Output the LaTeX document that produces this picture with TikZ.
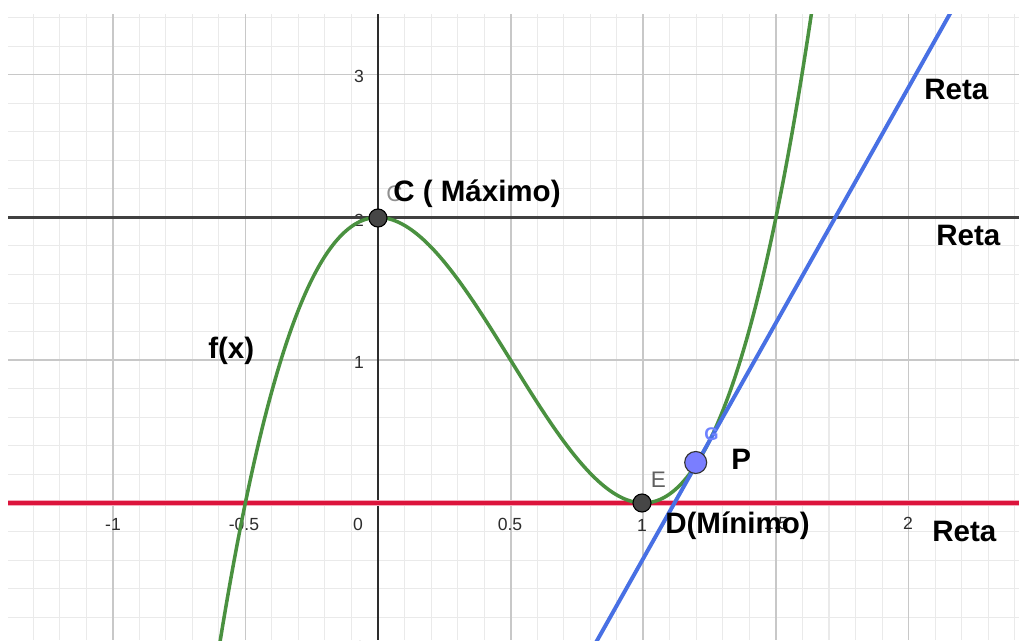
\documentclass[tikz,border=0pt]{standalone}
\usepackage{fontspec}
\setmainfont{Liberation Sans}
\definecolor{minorgrid}{RGB}{234,234,234}
\definecolor{majorgrid}{RGB}{200,200,200}
\definecolor{axisgray}{RGB}{45,45,45}
\definecolor{retagray}{RGB}{64,64,64}
\definecolor{fgreen}{RGB}{74,145,64}
\definecolor{tblue}{RGB}{72,112,228}
\definecolor{rred}{RGB}{220,20,60}
\definecolor{rpink}{RGB}{244,170,186}
\definecolor{ptgray}{RGB}{70,70,70}
\definecolor{ptblue}{RGB}{122,126,255}
\definecolor{lblgray}{RGB}{95,95,95}
\definecolor{gblue}{RGB}{110,130,255}
\tikzset{
  mingrid/.style={draw=minorgrid, line width=0.75pt},
  majgrid/.style={draw=majorgrid, line width=1.2pt},
  lbl/.style={font=\fontsize{21}{24}\selectfont\bfseries, text=black, inner sep=0pt, anchor=base west},
  graylbl/.style={font=\fontsize{16}{18}\selectfont, text=lblgray, inner sep=0pt, anchor=base west},
  ticklbl/.style={font=\fontsize{12.5}{14}\selectfont, text=axisgray, inner sep=0pt},
  dotpt/.style={circle, draw=black, line width=0.8pt, fill=ptgray, minimum size=0.45cm, inner sep=0pt},
  bluept/.style={circle, draw=black!80, line width=0.8pt, fill=ptblue, minimum size=0.55cm, inner sep=0pt},
}
\begin{document}
\begin{tikzpicture}[x=0.025cm,y=-0.025cm]
\useasboundingbox (0,0) rectangle (1019,640);
\fill[white] (0,0) rectangle (1019,640);
\begin{scope}
\clip (8,14) rectangle (1019,640);
% grid
\foreach \i in {-14,...,24} \draw[mingrid] ({378+26.53*\i},14) -- ({378+26.53*\i},640);
\foreach \j in {-4,...,17} \draw[mingrid] (8,{503-28.56*\j}) -- (1019,{503-28.56*\j});
\foreach \i in {-2,-1,1,2,3,4} \draw[majgrid] ({378+132.65*\i},14) -- ({378+132.65*\i},640);
\foreach \j in {-1,1,2,3} \draw[majgrid] (8,{503-142.8*\j}) -- (1019,{503-142.8*\j});
% y axis
\draw[axisgray, line width=1.4pt] (378,14) -- (378,640);
% tick labels
\node[ticklbl] (tm1) at (113,524) {-1};
\node[ticklbl] (tm05) at (244,524) {-0.5};
\node[ticklbl] (t0) at (358,524) {0};
\node[ticklbl] (t05) at (510,524) {0.5};
\node[ticklbl] (t1) at (642,525) {1};
\node[ticklbl] (t15) at (776,524) {1.5};
\node[ticklbl] (t2) at (908,523) {2};
\node[ticklbl] (y3) at (359,76) {3};
\node[ticklbl] (y2) at (359,220) {2};
\node[ticklbl] (y1) at (359,362) {1};
\node[ticklbl, anchor=east] (ym1) at (365,647) {-1};
% horizontal lines
\draw[retagray, line width=2.2pt] (8,217.4) -- (1019,217.4);
\draw[rpink, line width=3.8pt] (8,503) -- (1019,503);
\draw[rred, line width=2.3pt] (8,503) -- (1019,503);
% function
\draw[fgreen, line width=2.5pt, line join=round]
  plot[domain=-0.63:1.66, samples=240, smooth] ({378+265.3*\x},{503-142.8*(4*\x*\x*\x-6*\x*\x+2)});
% secant / tangent line
\coordinate (b1) at (584.9,662.1);
\coordinate (b2) at (961.7,-7.1);
\draw[tblue, line width=2.8pt] (b1) -- (b2);
\end{scope}
% points
\node[dotpt] (C) at (378,218) {};
\node[dotpt] (D) at (642,503) {};
\node[bluept] (P) at (695.7,462.5) {};
% labels
\node[graylbl, text=lblgray!70] (cg) at (386,201.5) {C};
\node[lbl] (cl) at (393,201.5) {C ( Máximo)};
\node[lbl] (fx) at (208,358) {f(x)};
\node[graylbl] (E) at (650.5,487.5) {E};
\node[lbl] (Dl) at (665,533) {D(Mínimo)};
\node[lbl] (Pl) at (731,469) {P};
\node[font=\fontsize{13}{15}\selectfont\bfseries, text=gblue, inner sep=0pt] (G) at (711.5,434) {G};
\node[lbl] (r1) at (924,99) {Reta};
\node[lbl] (r2) at (936,245) {Reta};
\node[lbl] (r3) at (932,541.5) {Reta};
\end{tikzpicture}
\end{document}
